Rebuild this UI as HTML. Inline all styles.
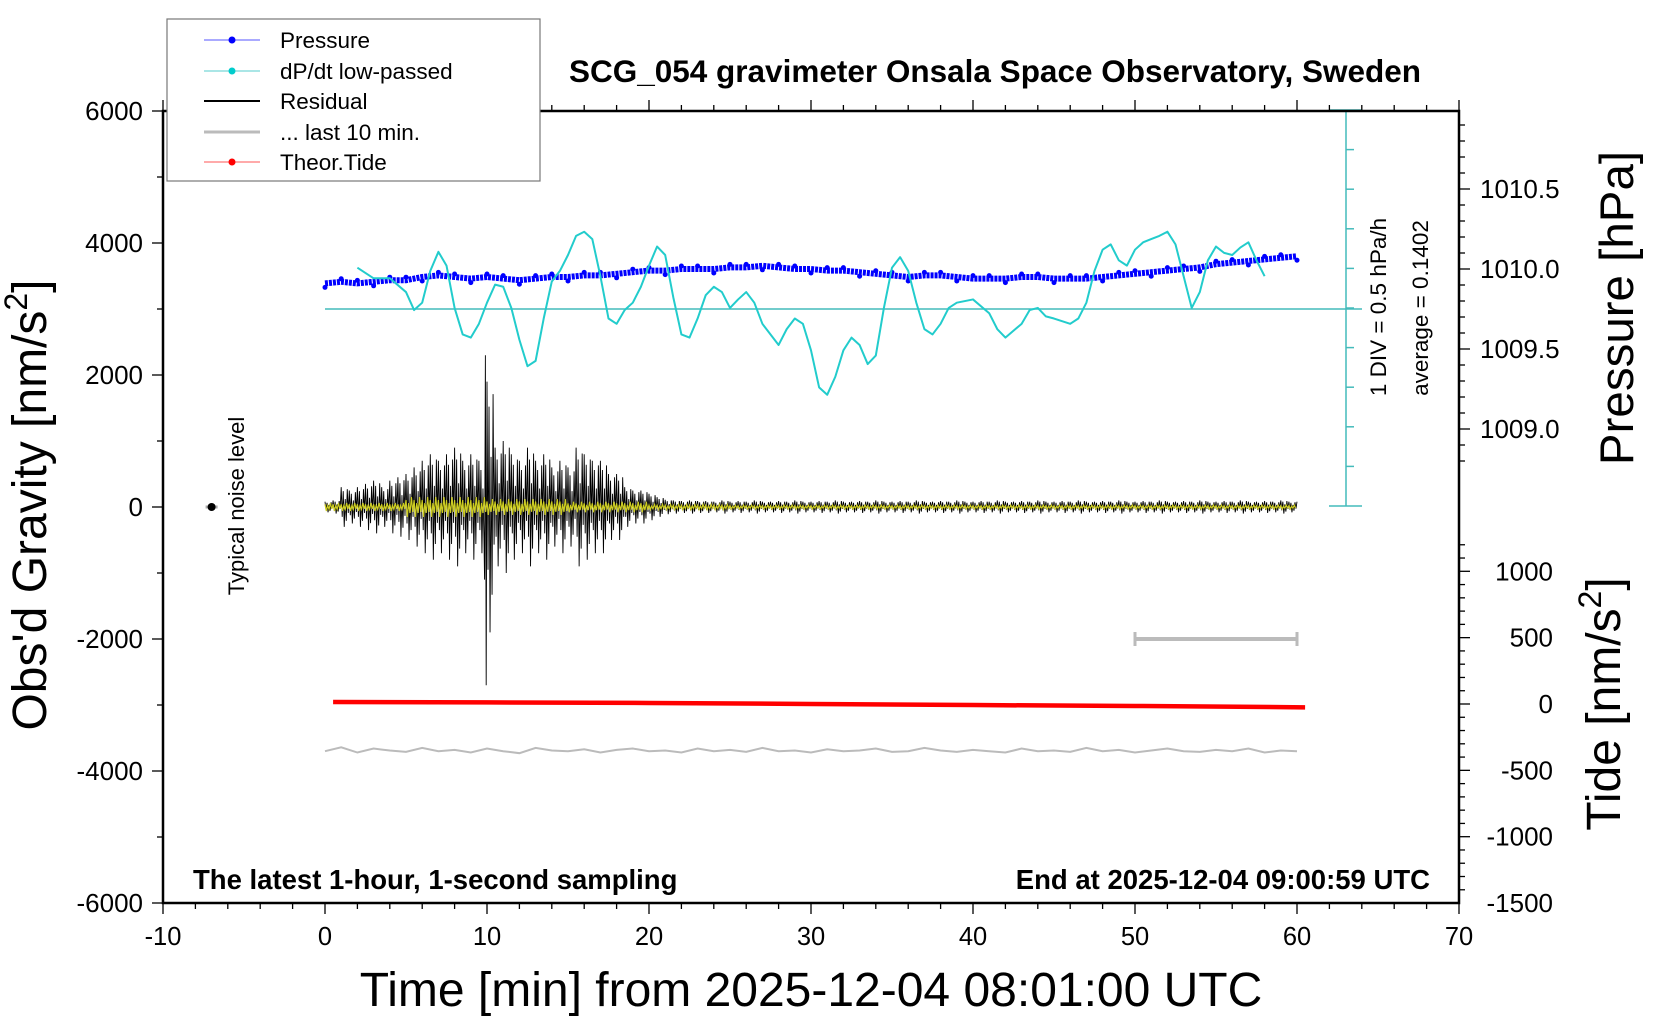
<!DOCTYPE html>
<html><head><meta charset="utf-8"><style>
html,body{margin:0;padding:0;background:#fff;}
svg text{font-family:"Liberation Sans",sans-serif;}
</style></head><body>
<svg id="chart" width="1660" height="1020" xmlns="http://www.w3.org/2000/svg">
<g id="plot"></g>
<g id="axes"></g>
<text x="995" y="82" font-size="31.5" font-weight="bold" text-anchor="middle">SCG_054 gravimeter Onsala Space Observatory, Sweden</text>
<text x="193" y="889" font-size="27.5" font-weight="bold">The latest 1-hour, 1-second sampling</text>
<text x="1430" y="889" font-size="27.5" font-weight="bold" text-anchor="end">End at 2025-12-04 09:00:59 UTC</text>
<text x="811" y="1006" font-size="48" text-anchor="middle">Time [min] from 2025-12-04 08:01:00 UTC</text>
<text transform="translate(46,505) rotate(-90)" font-size="48" text-anchor="middle">Obs'd Gravity [nm/s<tspan font-size="32" dy="-19">2</tspan><tspan dy="19">]</tspan></text>
<text transform="translate(1633,308) rotate(-90)" font-size="47.5" text-anchor="middle">Pressure [hPa]</text>
<text transform="translate(1620,704) rotate(-90)" font-size="48" text-anchor="middle">Tide [nm/s<tspan font-size="32" dy="-19">2</tspan><tspan dy="19">]</tspan></text>
<text transform="translate(1386,307) rotate(-90)" font-size="22.5" text-anchor="middle">1 DIV = 0.5 hPa/h</text>
<text transform="translate(1428,308) rotate(-90)" font-size="22.5" text-anchor="middle">average = 0.1402</text>
<text transform="translate(244,506) rotate(-90)" font-size="22" text-anchor="middle">Typical noise level</text>
<g>
<rect x="167" y="19" width="373" height="162" fill="#fff" stroke="#777" stroke-width="1.2"/>
<g><line x1="204" y1="40" x2="260" y2="40" stroke="#55f" stroke-width="1"/><circle cx="232" cy="40" r="3.5" fill="#00f"/><text x="280" y="48" font-size="22.5">Pressure</text></g>
<g><line x1="204" y1="71" x2="260" y2="71" stroke="#5cc" stroke-width="1"/><circle cx="232" cy="71" r="3.5" fill="#0cc"/><text x="280" y="79" font-size="22.5">dP/dt low-passed</text></g>
<g><line x1="204" y1="101" x2="260" y2="101" stroke="#000" stroke-width="2"/><text x="280" y="109" font-size="22.5">Residual</text></g>
<g><line x1="204" y1="132" x2="260" y2="132" stroke="#bbb" stroke-width="3"/><text x="280" y="140" font-size="22.5">... last 10 min.</text></g>
<g><line x1="204" y1="162" x2="260" y2="162" stroke="#f55" stroke-width="1"/><circle cx="232" cy="162" r="3.5" fill="#f00"/><text x="280" y="170" font-size="22.5">Theor.Tide</text></g>
</g>
</svg>
<script>
// ---- data ----
const xTicks = [-10,0,10,20,30,40,50,60,70];
const gravTicks = [-6000,-4000,-2000,0,2000,4000,6000];
const pressTicks = [1009.0,1009.5,1010.0,1010.5];
const tideTicks = [-1500,-1000,-500,0,500,1000];
const pressMin = [0,1,2,3,4,5,6,7,8,9,10,11,12,13,14,15,16,17,18,19,20,21,22,23,24,25,26,27,28,29,30,31,32,33,34,35,36,37,38,39,40,41,42,43,44,45,46,47,48,49,50,51,52,53,54,55,56,57,58,59,60];
const pressVal = [1009.91,1009.92,1009.91,1009.92,1009.93,1009.93,1009.95,1009.96,1009.95,1009.94,1009.95,1009.94,1009.93,1009.94,1009.95,1009.95,1009.96,1009.96,1009.97,1009.98,1009.99,1009.99,1010.00,1010.00,1010.00,1010.01,1010.01,1010.02,1010.01,1010.00,1010.00,1009.99,1009.99,1009.98,1009.97,1009.96,1009.95,1009.96,1009.96,1009.95,1009.94,1009.94,1009.94,1009.95,1009.95,1009.94,1009.94,1009.94,1009.95,1009.96,1009.97,1009.98,1009.99,1010.00,1010.01,1010.03,1010.04,1010.05,1010.06,1010.07,1010.08];
const dpdtT = [2,3,4,5,5.5,6,6.5,7,7.5,8,8.5,9,9.5,10,10.5,11,11.5,12,12.5,13,13.5,14,14.5,15,15.5,16,16.5,17,17.5,18,18.5,19,19.5,20,20.5,21,21.5,22,22.5,23,23.5,24,24.5,25,25.5,26,26.5,27,28,28.5,29,29.5,30,30.5,31,31.5,32,32.5,33,33.5,34,34.5,35,35.5,36,36.5,37,37.5,38,38.5,39,40,41,41.5,42,43,43.5,44,44.5,45,46,46.5,47,47.5,48,48.5,49,49.5,50,50.5,51,51.5,52,52.5,53,53.5,54,54.5,55,55.5,56,56.5,57,57.5,58];
const dpdtDisp = [252,262,262,275,292,285,255,237,250,290,315,318,305,285,268,270,290,320,345,340,300,265,255,240,222,218,225,260,300,305,292,285,270,250,232,240,280,315,318,300,278,270,275,290,282,275,285,305,325,310,300,305,330,365,372,355,330,318,325,343,335,290,252,242,255,285,310,315,305,290,285,282,295,310,318,305,292,290,298,300,305,300,285,255,235,230,245,250,235,228,225,222,218,230,260,290,275,245,232,238,240,233,228,245,260];
const dpdtVal = dpdtDisp.map(d => +(0.1402 + (291 - d) / 37.4 * 0.5).toFixed(3));
const dpdtAverage = 0.1402;
const residAmp = [80,100,300,250,300,350,400,300,400,450,500,600,700,800,700,800,900,700,800,700,1900,900,1000,800,700,900,700,800,600,700,600,900,800,700,700,500,500,300,250,250,200,150,110,100,90,100,90,90,80,100,80,90,80,100,80,80,90,80,100,80,80,90,80,100,80,80,90,80,100,80,80,90,80,100,80,80,90,80,100,80,80,90,80,100,80,80,90,80,100,80,80,90,80,100,80,80,90,80,100,80,80,90,80,100,80,80,90,80,100,80,80,90,80,100,80,80,90,80,100,80,80];
const spikeT = [9.85,9.9,9.95,10.0];
const spikeV = [-1100,2300,-2700,1900];
const yellowAmp = [60,150,120,80,40,30,30,30,30,30,30,30];
const tideT = [0.5,10,20,30,40,50,60.5];
const tideVal = [15,12,8,0,-8,-15,-25];
const grayT = [0,1,2,3,4,5,6,7,8,9,10,11,12,13,14,15,16,17,18,19,20,21,22,23,24,25,26,27,28,29,30,31,32,33,34,35,36,37,38,39,40,41,42,43,44,45,46,47,48,49,50,51,52,53,54,55,56,57,58,59,60];
const grayVal = [-3700,-3640,-3720,-3660,-3690,-3710,-3650,-3700,-3680,-3720,-3660,-3700,-3730,-3650,-3690,-3700,-3670,-3720,-3680,-3660,-3700,-3690,-3720,-3660,-3700,-3680,-3710,-3650,-3700,-3690,-3720,-3670,-3700,-3690,-3660,-3710,-3700,-3650,-3690,-3710,-3680,-3700,-3720,-3660,-3700,-3690,-3710,-3650,-3700,-3680,-3720,-3690,-3660,-3700,-3710,-3680,-3700,-3660,-3720,-3690,-3700];
const noiseT = -7, noiseV = 0;
const scaleBarT = [50,60], scaleBarV = -2000;

// ---- scales ----
const X = t => 163 + (t + 10) * 16.2;
const YG = v => 507 - v * 0.066;
const YP = p => 269 - (p - 1010) * 160;
const YT = v => 704 - v * 0.1327;
const YD = v => 309 - (v - dpdtAverage) / 0.5 * 39.6;
const NS = 'http://www.w3.org/2000/svg';
const plot = document.getElementById('plot');
const axes = document.getElementById('axes');
function mk(tag, attrs, parent){ const e=document.createElementNS(NS,tag); for(const k in attrs) e.setAttribute(k,attrs[k]); parent.appendChild(e); return e; }

const frame = mk('rect',{x:163,y:111,width:1296,height:792,fill:'none',stroke:'#000','stroke-width':2.5},axes);


for(let t=-10;t<=70;t+=2){
  const maj = t%10===0, x=X(t);
  mk('line',{x1:x,y1:903,x2:x,y2:maj?914:909,stroke:'#000','stroke-width':1.3},axes);
  mk('line',{x1:x,y1:111,x2:x,y2:maj?100:105,stroke:'#000','stroke-width':1.3},axes);
}
xTicks.forEach(t=>{ const e=mk('text',{x:X(t),y:945,'font-size':25.5,'text-anchor':'middle'},axes); e.textContent=t;
    });
for(let v=-6000;v<=6000;v+=1000){ const y=YG(v); mk('line',{x1:163,y1:y,x2:v%2000===0?152:157,y2:y,stroke:'#000','stroke-width':1.3},axes); }
gravTicks.forEach(v=>{ const e=mk('text',{x:143,y:YG(v)+9,'font-size':26,'text-anchor':'end'},axes); e.textContent=v;
    });
for(let p=1008.8;p<=1010.95;p+=0.1){ const y=YP(p); if(y<111||y>470) continue; const maj=Math.abs(p*2-Math.round(p*2))<0.01;
  mk('line',{x1:1459,y1:y,x2:maj?1470:1465,y2:y,stroke:'#000','stroke-width':1.3},axes); }
pressTicks.forEach(p=>{ const e=mk('text',{x:1480,y:YP(p)+9,'font-size':26},axes); e.textContent=p.toFixed(1);
    });
for(let v=-1500;v<=1200;v+=100){ const y=YT(v); if(y>903||y<540) continue;
  mk('line',{x1:1459,y1:y,x2:v%500===0?1470:1465,y2:y,stroke:'#000','stroke-width':1.3},axes); }
tideTicks.forEach(v=>{ const e=mk('text',{x:1553,y:YT(v)+9,'font-size':26,'text-anchor':'end'},axes); e.textContent=v;
    });

mk('line',{x1:1346,y1:110,x2:1346,y2:506,stroke:'#44bbbb','stroke-width':1.5},plot);
for(let i=0;i<=10;i++){ const y=110+i*39.6; const end=(i===0||i===10);
  mk('line',{x1:end?1329:1346,y1:y,x2:end?1362:1354,y2:y,stroke:'#44bbbb','stroke-width':1.5},plot); }
const avg = mk('line',{x1:X(0),y1:YD(dpdtAverage),x2:1362,y2:YD(dpdtAverage),stroke:'#44bbbb','stroke-width':1.5},plot);



const gp = mk('polyline',{points:grayT.map((t,i)=>X(t)+','+YG(grayVal[i])).join(' '),fill:'none',stroke:'#bbb','stroke-width':2},plot);


const sb = mk('g',{},plot);


mk('line',{x1:X(scaleBarT[0]),y1:YG(scaleBarV),x2:X(scaleBarT[1]),y2:YG(scaleBarV),stroke:'#bbb','stroke-width':4},sb);
scaleBarT.forEach(t=>mk('line',{x1:X(t),y1:YG(scaleBarV)-7,x2:X(t),y2:YG(scaleBarV)+7,stroke:'#bbb','stroke-width':3},sb));

const tp = mk('polyline',{points:tideT.map((t,i)=>X(t)+','+YT(tideVal[i])).join(' '),fill:'none',stroke:'#f00','stroke-width':4.5},plot);



const pat=[1,-0.5,0.8,-1,0.4,-0.7,0.9,-0.3];
let rp=[];
residAmp.forEach((a,i)=>{ for(let k=0;k<8;k++){ const t=i*0.5+k/16; if(t>60) break;
  if(t>=9.85&&t<=10.0){ continue; }
  rp.push(X(t)+','+YG(a*pat[k])); }
  if(i===19) spikeT.forEach((t,j)=>rp.push(X(t)+','+YG(spikeV[j])));
});
const rl = mk('polyline',{points:rp.join(' '),fill:'none',stroke:'#000','stroke-width':0.9},plot);


const pat2=[0.7,-1,0.4,-0.6,1,-0.5];
let yp=[];
yellowAmp.forEach((a,i)=>{ for(let k=0;k<60;k++){ const t=i*5+k/12; if(t>60) break; yp.push(X(t)+','+YG(a*pat2[k%6])); }});
const yl = mk('polyline',{points:yp.join(' '),fill:'none',stroke:'#cccc22','stroke-width':1.2},plot);



const pp = mk('polyline',{points:pressMin.map((t,i)=>X(t)+','+YP(pressVal[i])).join(' '),fill:'none',stroke:'#0000ff','stroke-width':6,'stroke-dasharray':'3 1'},plot);


pressMin.forEach((t,i)=>{ const c=mk('circle',{cx:X(t),cy:YP(pressVal[i])+(i%3===0?4:-3),r:2.5,fill:'#00f'},plot);
  
   });

const dp = mk('polyline',{points:dpdtT.map((t,i)=>X(t)+','+YD(dpdtVal[i])).join(' '),fill:'none',stroke:'#22cccc','stroke-width':2,'stroke-linejoin':'round'},plot);



mk('line',{x1:X(noiseT)-6,y1:YG(noiseV),x2:X(noiseT)+6,y2:YG(noiseV),stroke:'#aaa','stroke-width':3},plot);
const nd = mk('circle',{cx:X(noiseT),cy:YG(noiseV),r:4,fill:'#000'},plot);


</script>
</body></html>
